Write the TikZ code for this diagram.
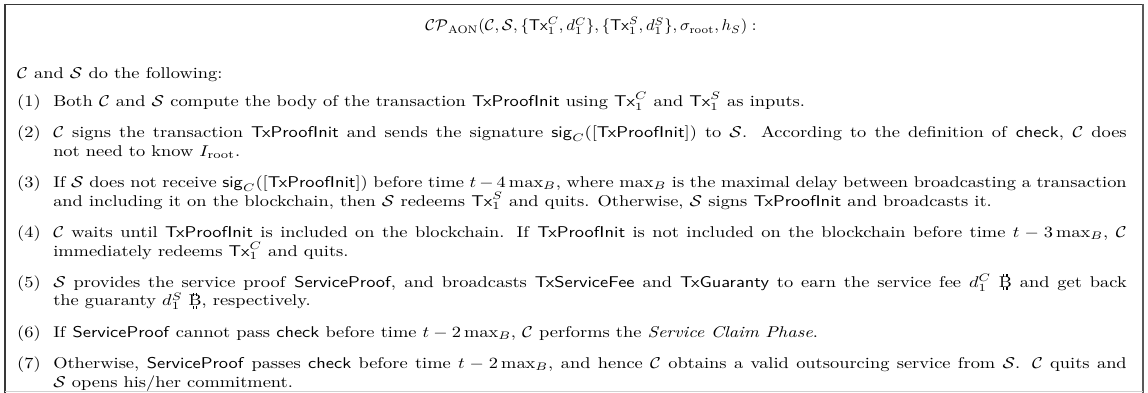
\documentclass[tikz,border=0pt]{standalone}
\usepackage{amsmath}
\usepackage{graphicx}

% upright bitcoin sign: a roman B with short strokes above and below
\newcommand{\btcsign}{{\leavevmode
  \rlap{\hspace{0.22em}\rule[-0.38ex]{0.06em}{0.38ex}\hspace{0.13em}\rule[-0.38ex]{0.06em}{0.38ex}}%
  \rlap{\hspace{0.22em}\rule[1.5ex]{0.06em}{0.4ex}\hspace{0.13em}\rule[1.5ex]{0.06em}{0.4ex}}%
  B}}
\newcommand{\tx}[1]{\textsf{#1}}
\newcommand{\hsc}{1.84}
\newcommand{\vsc}{1.56}
\newcounter{stepno}
\newenvironment{steplist}{%
  \begin{list}{(\arabic{stepno})}{\usecounter{stepno}%
      \setlength{\leftmargin}{19.6pt}\setlength{\labelsep}{5pt}%
      \setlength{\labelwidth}{14.6pt}\setlength{\topsep}{6pt}%
      \setlength{\partopsep}{0pt}\setlength{\itemsep}{8pt}%
      \setlength{\parsep}{0pt}\renewcommand{\makelabel}[1]{##1\hfil}}}%
  {\end{list}}

\tikzset{
  frameline/.style={draw=black!78, line width=1.6pt},
  baseline/.style={draw=black!18, line width=0.8pt},
  titletext/.style={inner sep=0pt, anchor=base},
  bodytext/.style={inner sep=0pt, anchor=north west}
}

\begin{document}
\begin{tikzpicture}[x=1pt,y=-1pt]
  \useasboundingbox (0,0) rectangle (1148,393);
  \fill[white] (0,0) rectangle (1148,393);

  % frame of the protocol box
  \draw[frameline] (4,4.5) -- (1144,4.5);
  \draw[frameline, line width=2.2pt] (5,3.8) -- (5,393);
  \draw[frameline, draw=black!65] (1143,3.8) -- (1143,393);
  \draw[baseline] (5,391.5) -- (1143,391.5);

  % heading
  \node[titletext] (title) at (591,31) {\scalebox{1.66}[\vsc]{%
    $\mathcal{CP}_{\mathrm{AON}}(\mathcal{C},\mathcal{S},\{\mathsf{Tx}_1^C,d_1^C\},\{\mathsf{Tx}_1^S,d_1^S\},\sigma_{\mathrm{root}},h_S):$}};

  % protocol steps
  \node[bodytext] (body) at (17,67) {\scalebox{\hsc}[\vsc]{%
  \begin{minipage}[t]{603pt}
  \setlength{\parindent}{0pt}\baselineskip=12pt
  $\mathcal{C}$ and $\mathcal{S}$ do the following:
  \begin{steplist}
  \item Both $\mathcal{C}$ and $\mathcal{S}$ compute the body of the transaction \tx{TxProofInit} using $\mathsf{Tx}_1^C$ and $\mathsf{Tx}_1^S$ as inputs.
  \item $\mathcal{C}$ signs the transaction \tx{TxProofInit} and sends the signature $\mathsf{sig}_C([\text{\tx{TxProofInit}}])$ to $\mathcal{S}$. According to the definition of \tx{check}, $\mathcal{C}$ does\linebreak not need to know $I_{\mathrm{root}}$.
  \item If $\mathcal{S}$ does not receive $\mathsf{sig}_C([\text{\tx{TxProofInit}}])$ before time $t-4\max_B$, where $\max_B$ is the maximal delay between broadcasting a transaction\linebreak and including it on the blockchain, then $\mathcal{S}$ redeems $\mathsf{Tx}_1^S$ and quits. Otherwise, $\mathcal{S}$ signs \tx{TxProofInit} and broadcasts it.
  \item $\mathcal{C}$ waits until \tx{TxProofInit} is included on the blockchain. If \tx{TxProofInit} is not included on the blockchain before time $t-3\max_B$, $\mathcal{C}$\linebreak immediately redeems $\mathsf{Tx}_1^C$ and quits.
  \item $\mathcal{S}$ provides the service proof \tx{ServiceProof}, and broadcasts \tx{TxServiceFee} and \tx{TxGuaranty} to earn the service fee $d_1^C$~\btcsign{} and get back\linebreak the guaranty $d_1^S$~\btcsign, respectively.
  \item If \tx{ServiceProof} cannot pass \tx{check} before time $t-2\max_B$, $\mathcal{C}$ performs the \emph{Service Claim Phase}.
  \item Otherwise, \tx{ServiceProof} passes \tx{check} before time $t-2\max_B$, and hence $\mathcal{C}$ obtains a valid outsourcing service from $\mathcal{S}$. $\mathcal{C}$ quits and\linebreak $\mathcal{S}$ opens his/her commitment.
  \end{steplist}
  \end{minipage}}};
\end{tikzpicture}
\end{document}
